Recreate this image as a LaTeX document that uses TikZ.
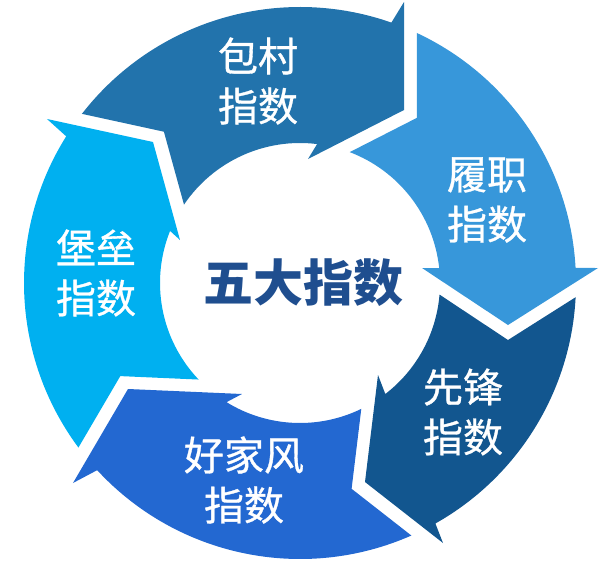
\documentclass[tikz,border=0pt]{standalone}
\usepackage{fontspec}
\newfontfamily\cjk{Noto Sans CJK SC}
\newfontfamily\cjkmid{Noto Sans CJK SC}[FakeBold=0.8]
\usetikzlibrary{positioning}
\definecolor{cvillage}{HTML}{2273AC}
\definecolor{cduty}{HTML}{3797DA}
\definecolor{cpioneer}{HTML}{12568F}
\definecolor{chome}{HTML}{2368D1}
\definecolor{cfort}{HTML}{00B0F0}
\definecolor{chub}{HTML}{1F4E8F}
\tikzset{
  every picture/.style={font=\cjk},
  seg/.style={fill=#1, draw=none},
  segtext/.style={text=white, align=center, inner sep=0pt, font=\cjkmid\fontsize{40}{50}\selectfont},
  hub/.style={text=chub, inner sep=0pt, font=\cjk\bfseries\fontsize{50}{60}\selectfont},
}

\begin{document}
\begin{tikzpicture}[x=1pt, y=1pt]
  \useasboundingbox (-300,-277) rectangle (302,283);
  % ring of five arrows, outer radius 276, inner radius 140
  \fill[seg=cvillage] (142.2:276) arc[start angle=142.2, end angle=70.66, radius=276]
    -- (104,281) -- (104,173) -- (8,124)
    -- (82.98:140) arc[start angle=82.98, end angle=145.95, radius=140] -- (-136.1,151.3) -- cycle;
  \fill[seg=cduty] (64.96:276) arc[start angle=64.96, end angle=3.12, radius=276]
    -- (298,15) -- (208,-42) -- (122,15)
    -- (6.15:140) arc[start angle=6.15, end angle=69.2, radius=140] -- (116.8,165.1) -- cycle;
  \fill[seg=cpioneer] (-2.95:276) arc[start angle=-2.95, end angle=-60.62, radius=276]
    -- (143,-260) -- (65,-199) -- (78,-92)
    -- (-52.45:140) arc[start angle=-52.45, end angle=-4.75, radius=140] -- (208,-57) -- cycle;
  \fill[seg=chome] (-66.2:276) arc[start angle=-66.2, end angle=-137.3, radius=276]
    -- (-227,-200) -- (-172,-106) -- (-58,-111)
    -- (-121.66:140) arc[start angle=-121.66, end angle=-64.04, radius=140] -- (51.6,-205.8) -- cycle;
  \fill[seg=cfort] (216.6:276) arc[start angle=216.6, end angle=147.9, radius=276]
    -- (-253,164) -- (-147,141) -- (-120,43)
    -- (158.16:140) arc[start angle=158.16, end angle=223.6, radius=140] -- (-179.7,-93.1) -- cycle;
  % labels
  \foreach \n/\x/\y/\t in {village/-42/202/包村\\指数, duty/187/83/履职\\指数,
      pioneer/163/-129/先锋\\指数, home/-56/-197/好家风\\指数, fort/-204/10/堡垒\\指数}
    \node[segtext] (\n) at (\x,\y) {\t};
  \node[hub] (hub) at (4,0) {五大指数};
\end{tikzpicture}
\end{document}
